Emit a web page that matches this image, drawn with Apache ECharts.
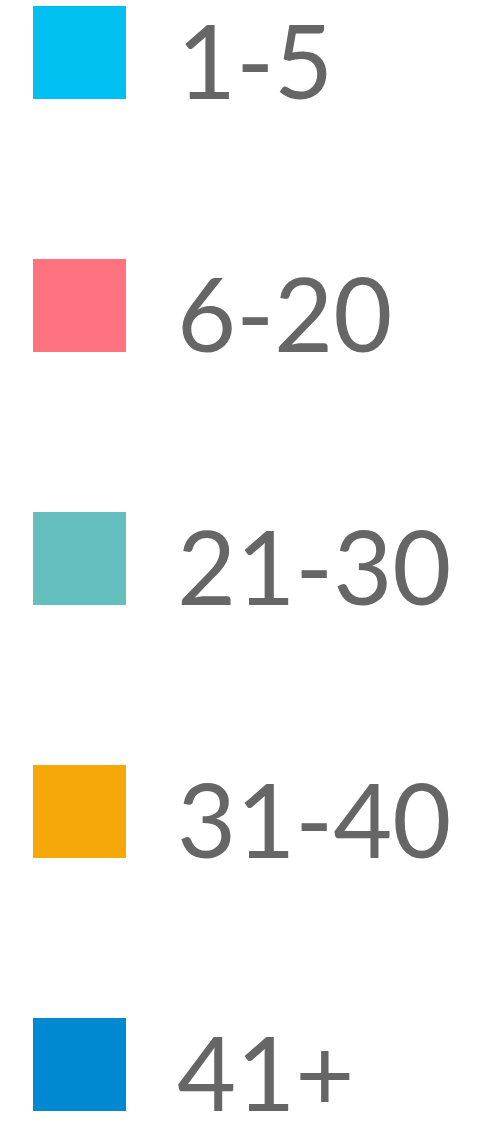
<!DOCTYPE html>
<html>
<head>
<meta charset="utf-8">
<script src="https://cdn.jsdelivr.net/npm/echarts@6/dist/echarts.min.js"></script>
<style>
  html, body { margin: 0; padding: 0; background: #fff; }
  #chart { width: 477px; height: 1126px; }
</style>
</head>
<body>
<div id="chart"></div>
<script>
var categories = ['1-5', '6-20', '21-30', '31-40', '41+'];
var colors = ['#00C0F2', '#FF7380', '#66BFBF', '#F6A80B', '#0088D1'];

var chart = echarts.init(document.getElementById('chart'), null, { renderer: 'svg' });
chart.setOption({
  animation: false,
  color: colors,
  legend: {
    orient: 'vertical',
    left: 33,
    top: -5,
    padding: 0,
    itemWidth: 93,
    itemHeight: 93,
    itemGap: 138,
    icon: 'rect',
    selectedMode: false,
    data: categories,
    formatter: '{t|{name}}',
    textStyle: {
      rich: {
        t: {
          color: '#666',
          fontSize: 102,
          fontFamily: 'Lato',
          lineHeight: 75,
          padding: [13, 0, 0, 46]
        }
      }
    }
  },
  series: [{
    type: 'pie',
    radius: [0, 0],
    silent: true,
    label: { show: false },
    data: categories.map(function(c) { return { name: c, value: 1 }; })
  }]
});
window.addEventListener('resize', function() { chart.resize(); });
</script>
</body>
</html>
